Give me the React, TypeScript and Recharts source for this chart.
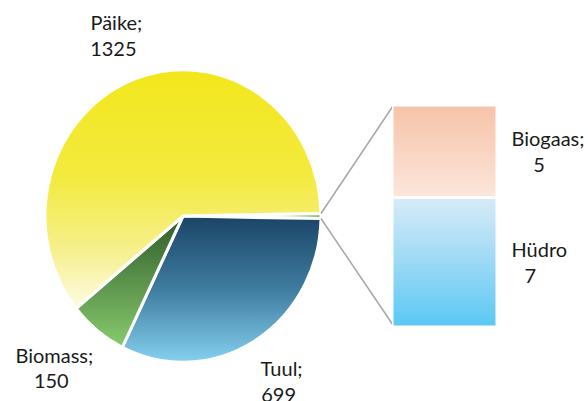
import React from "react";
import { PieChart, Pie, Cell, BarChart, Bar, XAxis, YAxis, LabelList } from "recharts";

// pie slices (the small ones are split out into the bar)
const pieNames = ["Tuul", "Biomass", "Päike"];
const pieValues = [699, 150, 1325];
const pieGradients = ["g-tuul", "g-biomass", "g-paike"];

// bar of the "other" slice, bottom to top
const barNames = ["Hüdro", "Biogaas"];
const barValues = [7, 5];
const barLabelNames = ["Hüdro", "Biogaas;"];
const barGradients = ["g-hudro", "g-biogaas"];

const OTHER = "Muu";
const otherValue = barValues.reduce((a, b) => a + b, 0);
const total = otherValue + pieValues.reduce((a, b) => a + b, 0);
const otherAngle = (otherValue / total) * 360;

const pieData = [
  { name: OTHER, value: otherValue, fill: "#7AB648" },
  ...pieNames.map((name, i) => ({ name, value: pieValues[i], fill: `url(#${pieGradients[i]})` })),
];

const barRow: Record<string, number | string> = { name: OTHER };
barNames.forEach((n, i) => (barRow[n] = barValues[i]));
const barData = [barRow];

const CX = 183;
const CY = 216;
const R = 138;
const Y_SCALE = 1.06;

const BAR_LEFT = 391.5;
const BAR_TOP = 104.5;
const BAR_W = 105;
const BAR_H = 222;
const BAR_CHART_W = 588 - BAR_LEFT;

const FONT = "Lato, sans-serif";
const FS = 20;
const TEXT = "#1a1a1a";

let ctx: CanvasRenderingContext2D | null = null;
const textWidth = (t: string) => {
  if (!ctx) ctx = document.createElement("canvas").getContext("2d");
  if (!ctx) return t.length * 9;
  ctx.font = `${FS}px ${FONT}`;
  return ctx.measureText(t).width;
};

const RAD = Math.PI / 180;

const renderPieLabel = (p: any) => {
  const { cx, cy, midAngle, outerRadius, name, value, startAngle, endAngle } = p;
  if (name === OTHER) {
    const pt = (a: number) => [cx + outerRadius * Math.cos(a * RAD), cy - outerRadius * Y_SCALE * Math.sin(a * RAD)];
    const [x1, y1] = pt(startAngle);
    const [x2, y2] = pt(endAngle);
    return (
      <g key="connectors">
        <line x1={x1} y1={y1} x2={BAR_LEFT + 1.5} y2={BAR_TOP + 1.5} stroke="#A6A6A6" strokeWidth={1.5} />
        <line x1={x2} y1={y2} x2={BAR_LEFT + 1.5} y2={BAR_TOP + BAR_H - 1.5} stroke="#A6A6A6" strokeWidth={1.5} />
      </g>
    );
  }
  const cos = Math.cos(midAngle * RAD);
  const sin = -Math.sin(midAngle * RAD);
  const rr = outerRadius + 30;
  const px = cx + rr * cos;
  const py = cy + rr * sin;
  const l1 = `${name};`;
  const l2 = `${value}`;
  const w = Math.max(textWidth(l1), textWidth(l2));
  const h = 50;
  const bx = px + (w / 2) * cos;
  const by = py + (h / 2) * sin;
  return (
    <text key={name} fontFamily={FONT} fontSize={FS} fill={TEXT} textAnchor="middle" dominantBaseline="central">
      <tspan x={bx} y={by - 12.5}>{l1}</tspan>
      <tspan x={bx - 3} y={by + 13}>{l2}</tspan>
    </text>
  );
};

const barLabel = (i: number) => (p: any) => {
  const { x, y, width, height } = p;
  const l1 = barLabelNames[i];
  const l2 = `${barValues[i]}`;
  const sx = x + width + 14.5;
  const mid = y + height / 2;
  return (
    <text fontFamily={FONT} fontSize={FS} fill={TEXT} dominantBaseline="central">
      <tspan x={sx} y={mid - 13}>{l1}</tspan>
      <tspan x={sx + textWidth(l1) / 2 - 9} y={mid + 13} textAnchor="middle">{l2}</tspan>
    </text>
  );
};

export default function App() {
  return (
    <div className="pie-of-bar" style={{ position: "absolute", left: 0, top: 0, width: 588, height: 401, background: "#fff" }}>
      <style>{`.pie-of-bar path.recharts-sector { transform-box: view-box; transform-origin: ${CX}px ${CY}px; transform: scaleY(${Y_SCALE}); }`}</style>
      <PieChart width={588} height={401} margin={{ top: 0, right: 0, bottom: 0, left: 0 }}>
        <defs>
          <linearGradient id="g-paike" x1="0" y1="0" x2="0" y2="1">
            <stop offset="0" stopColor="#F2E71C" />
            <stop offset="0.45" stopColor="#F3EA3F" />
            <stop offset="0.75" stopColor="#F6F08C" />
            <stop offset="1" stopColor="#FDFBE2" />
          </linearGradient>
          <linearGradient id="g-tuul" x1="0" y1="0" x2="0" y2="1">
            <stop offset="0" stopColor="#1A4466" />
            <stop offset="0.5" stopColor="#3F7C9F" />
            <stop offset="1" stopColor="#85D0F0" />
          </linearGradient>
          <linearGradient id="g-biomass" x1="0" y1="0" x2="0" y2="1">
            <stop offset="0" stopColor="#2F5A29" />
            <stop offset="1" stopColor="#88CB6E" />
          </linearGradient>
        </defs>
        <Pie
          data={pieData}
          dataKey="value"
          nameKey="name"
          cx={CX}
          cy={CY}
          outerRadius={R}
          startAngle={otherAngle / 2}
          endAngle={otherAngle / 2 - 360}
          stroke="#fff"
          strokeWidth={3}
          label={renderPieLabel}
          labelLine={false}
          isAnimationActive={false}
        >
          {pieData.map((d) => (
            <Cell key={d.name} fill={d.fill} />
          ))}
        </Pie>
      </PieChart>
      <div style={{ position: "absolute", left: BAR_LEFT, top: BAR_TOP }}>
        <BarChart
          width={BAR_CHART_W}
          height={BAR_H}
          data={barData}
          margin={{ top: 0, right: BAR_CHART_W - BAR_W, bottom: 0, left: 0 }}
          barCategoryGap={0}
          style={{ overflow: "visible" }}
        >
          <defs>
            <linearGradient id="g-biogaas" x1="0" y1="0" x2="0" y2="1">
              <stop offset="0" stopColor="#F6C3A8" />
              <stop offset="1" stopColor="#FCE6DB" />
            </linearGradient>
            <linearGradient id="g-hudro" x1="0" y1="0" x2="0" y2="1">
              <stop offset="0" stopColor="#D8EBF7" />
              <stop offset="0.5" stopColor="#9BD9F5" />
              <stop offset="1" stopColor="#59C8F3" />
            </linearGradient>
          </defs>
          <XAxis dataKey="name" hide />
          <YAxis hide domain={[0, "dataMax"]} />
          {barNames.map((n, i) => (
            <Bar key={n} dataKey={n} stackId="a" fill={`url(#${barGradients[i]})`} stroke="#fff" strokeWidth={3} isAnimationActive={false}>
              <LabelList dataKey={n} content={barLabel(i)} />
            </Bar>
          ))}
        </BarChart>
      </div>
    </div>
  );
}
